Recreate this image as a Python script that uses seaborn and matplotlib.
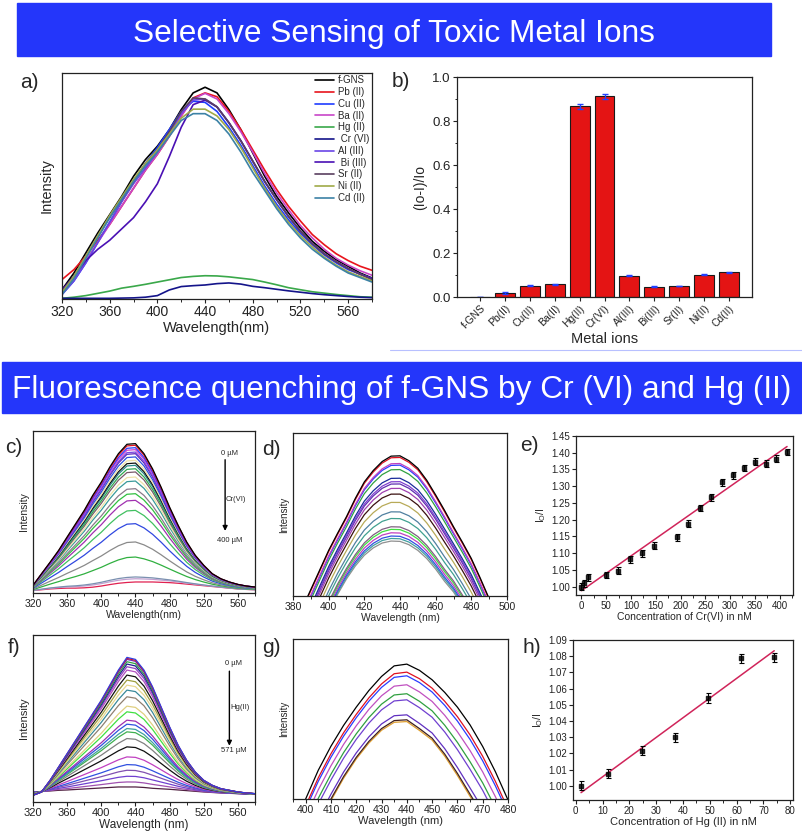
import numpy as np
import pandas as pd
import matplotlib
matplotlib.use('Agg')
import matplotlib.pyplot as plt
import seaborn as sns
from matplotlib.ticker import MultipleLocator, NullLocator, FormatStrFormatter

# ---------------- data ----------------
# a) emission spectra of f-GNS with 11 metal ions (320-580 nm, 10 nm step)
a_wl = list(range(320, 581, 10))
a_labels = ['f-GNS', 'Pb (II)', 'Cu (II)', 'Ba (II)', 'Hg (II)', ' Cr (VI)',
            'Al (III)', ' Bi (III)', 'Sr (II)', 'Ni (II)', 'Cd (II)']
a_fgns = [4.1, 11.5, 20.4, 29.2, 37.3, 45.4, 54.3, 61.7, 67.6, 74.9, 83.8, 91.2, 93.7, 91.2,
          83.8, 74.9, 64.6, 54.3, 45.4, 38.1, 31.4, 25.5, 21.1, 17.4, 14.5, 11.5, 9.3]
a_pb = [8.6, 13.0, 19.0, 26.0, 33.0, 41.0, 49.0, 57.0, 64.0, 72.0, 81.0, 89.0, 91.2, 89.5,
        83.0, 75.0, 66.0, 57.0, 48.5, 41.0, 34.5, 28.5, 24.0, 20.0, 17.0, 14.5, 12.7]
a_cu = [2.0, 8.0, 16.0, 25.0, 34.0, 43.0, 52.0, 60.0, 67.0, 75.0, 83.0, 87.5, 87.0, 83.0,
        76.0, 68.0, 59.0, 50.0, 42.0, 35.0, 29.0, 24.0, 19.5, 16.0, 13.0, 11.0, 9.0]
a_ba = [3.0, 9.0, 17.0, 25.0, 33.0, 41.0, 49.0, 57.0, 64.0, 72.0, 81.0, 88.5, 91.0, 88.5,
        82.0, 74.0, 65.0, 55.5, 47.0, 39.5, 32.5, 27.0, 22.0, 18.0, 15.0, 12.5, 10.5]
a_hg = [0.3, 0.8, 1.5, 2.5, 3.5, 4.8, 5.6, 6.5, 7.5, 8.5, 9.5, 10.0, 10.3, 10.2,
        9.8, 9.2, 8.6, 7.5, 6.3, 5.0, 4.1, 3.2, 2.6, 2.0, 1.5, 1.0, 0.8]
a_cr = [0.3, 0.3, 0.3, 0.3, 0.3, 0.4, 0.5, 0.8, 1.5, 4.0, 5.5, 5.9, 6.2, 6.8,
        7.1, 6.6, 5.6, 5.0, 4.3, 3.6, 3.0, 2.4, 1.9, 1.5, 1.1, 0.8, 0.6]
a_al = [2.0, 8.0, 16.0, 25.0, 34.0, 43.0, 51.0, 58.0, 65.0, 73.0, 82.0, 88.0, 88.5, 85.0,
        78.0, 70.0, 61.0, 52.0, 44.0, 36.5, 30.0, 24.5, 20.0, 16.5, 13.5, 11.0, 9.0]
a_bi = [4.0, 10.0, 17.0, 22.0, 26.0, 31.0, 36.0, 43.0, 51.0, 63.0, 76.0, 86.0, 88.0, 85.0,
        78.0, 70.0, 61.0, 52.0, 44.0, 36.5, 30.0, 24.5, 20.0, 16.5, 13.5, 11.0, 9.0]
a_sr = [3.0, 10.0, 19.0, 28.0, 36.0, 44.0, 52.0, 60.0, 66.0, 74.0, 83.0, 89.0, 88.5, 85.0,
        78.0, 70.0, 61.0, 52.0, 44.0, 36.5, 30.0, 24.5, 20.0, 16.5, 13.5, 11.0, 8.5]
a_ni = [3.0, 10.0, 19.0, 28.0, 37.0, 45.0, 53.0, 60.0, 66.0, 73.0, 80.0, 84.0, 84.0, 81.0,
        75.0, 67.0, 58.0, 49.0, 41.0, 34.0, 28.0, 23.0, 18.5, 15.0, 12.0, 10.0, 8.0]
a_cd = [2.0, 9.0, 18.0, 27.0, 36.0, 44.0, 52.0, 59.0, 65.0, 72.0, 79.0, 82.0, 82.0, 79.0,
        73.0, 65.0, 56.0, 48.0, 40.0, 33.0, 27.0, 22.0, 18.0, 14.5, 11.5, 9.5, 7.5]
a_colors = ['#000000', '#e8141c', '#1f3cff', '#c846c8', '#3aa84a', '#14148a',
            '#6a46e6', '#4a10b4', '#5a4060', '#a0aa48', '#3c82a6']

# b) quenching efficiency
b_ions = ['f-GNS', 'Pb(II)', 'Cu(II)', 'Ba(II)', 'Hg(II)', 'Cr(VI)',
          'Al(III)', 'Bi(III)', 'Sr(II)', 'Ni(II)', 'Cd(II)']
b_vals = [0.0, 0.018, 0.052, 0.058, 0.866, 0.912, 0.097, 0.047, 0.050, 0.101, 0.112]
b_err = [0.0, 0.003, 0.003, 0.003, 0.012, 0.012, 0.003, 0.002, 0.002, 0.003, 0.003]

# c) Cr(VI) titration: first (0 uM) and last (400 uM) spectra + peak height of each curve
c_wl = list(range(320, 581, 10))
c_top = [4.7, 11.9, 19.0, 26.3, 34.6, 42.8, 51.0, 60.3, 68.5, 77.8, 86.0, 91.8, 92.2, 86.0,
         76.7, 65.4, 53.0, 41.8, 31.5, 23.3, 17.1, 11.9, 8.8, 6.8, 5.3, 4.3, 3.7]
c_bot = [1.5, 2.0, 2.5, 2.8, 3.0, 3.0, 3.2, 3.6, 4.3, 5.2, 6.0, 6.5, 6.8, 6.8,
         6.8, 6.6, 6.4, 6.0, 5.5, 5.0, 4.5, 4.0, 3.5, 3.0, 2.5, 2.2, 2.0]
c_peaks = [92.2, 91.2, 89.7, 88.5, 87.0, 86.0, 84.0, 81.9, 80.2, 78.8, 76.7, 74.7,
           71.6, 69.1, 64.4, 61.3, 57.2, 51.0, 42.8, 31.5, 22.2, 9.9, 8.8, 6.8]
c_colors = ['#000000', '#e01020', '#2a3cff', '#d040d0', '#7a48e0', '#5a28b8', '#3050e0',
            '#efe2a8', '#101010', '#2a8a8a', '#30a850', '#7a5a6a', '#efe2a8', '#3a9a9a',
            '#8a7a8a', '#30c040', '#a030b0', '#40c060', '#3048e0', '#8a8a8a', '#30b040',
            '#7a90b0', '#c0a0d0', '#e02050']

# d) zoom on the Cr(VI) peaks (385-495 nm, 5 nm step)
d_wl = list(range(385, 496, 5))
d_top = [-8.0, 4.0, 16.0, 28.0, 38.5, 48.7, 60.0, 70.0, 77.0, 82.5, 85.8, 86.0, 83.0, 78.4,
         71.0, 62.0, 52.5, 42.5, 33.0, 23.0, 11.0, -1.6, -14.0]
d_bot = [-48.0, -35.0, -22.0, -10.0, 1.0, 10.5, 18.5, 25.0, 29.5, 32.5, 33.7, 33.5, 31.5,
         28.0, 23.0, 16.5, 9.0, 2.5, -6.0, -15.0, -25.0, -36.0, -47.0]
d_peaks = [86.0, 85.0, 81.3, 80.3, 77.6, 72.3, 70.2, 68.8, 66.1, 62.6, 57.5, 51.7, 47.6,
           42.5, 40.9, 38.8, 36.8, 35.3, 33.7]
d_colors = ['#000000', '#e01020', '#c040c0', '#2a3cff', '#30a040', '#1a2a9a', '#8040d0',
            '#6030b0', '#a040b0', '#3a1010', '#b8aa58', '#5080a0', '#40a090', '#806080',
            '#40e040', '#c040c0', '#3050e0', '#40a0a0', '#909090']

# e) Io/I vs Cr(VI)
e_x = [0, 5, 13, 50, 74, 99, 123, 147, 193, 216, 239, 261, 284, 306, 328, 350, 372, 393, 415]
e_y = [1.000, 1.010, 1.028, 1.035, 1.048, 1.082, 1.100, 1.122, 1.147, 1.188, 1.235, 1.267,
       1.312, 1.332, 1.354, 1.373, 1.367, 1.382, 1.402]
e_err = [0.010] * len(e_x)

# f) Hg(II) titration
f_wl = list(range(320, 581, 10))
f_top = [4.0, 6.0, 13.0, 21.0, 29.0, 37.0, 45.0, 53.0, 61.0, 70.0, 79.0, 86.6, 85.4, 79.0,
         69.0, 57.0, 45.0, 34.0, 25.0, 18.0, 13.0, 10.0, 8.0, 7.0, 6.0, 5.4, 5.0]
f_bot = [6.0, 6.3, 6.6, 7.0, 7.2, 7.5, 7.8, 8.1, 8.4, 8.7, 9.0, 9.0, 9.0, 8.7,
         8.2, 7.9, 7.6, 7.2, 6.8, 6.4, 6.0, 5.7, 5.4, 5.2, 5.0, 4.8, 4.6]
f_peaks = [86.6, 86.0, 85.4, 84.0, 82.6, 81.0, 79.0, 76.0, 73.0, 70.0, 67.0, 63.0, 57.4,
           54.0, 49.0, 46.6, 44.0, 42.0, 38.0, 33.0, 27.0, 22.4, 19.0, 15.4, 12.0, 9.0]
f_colors = ['#3040e0', '#e01020', '#6030c0', '#30a040', '#1a2090', '#9040c0', '#b050c0',
            '#101010', '#a0a040', '#e8d890', '#3a8a9a', '#908070', '#e0d080', '#40e040',
            '#a030b0', '#3050e0', '#40a0a0', '#40b050', '#808080', '#101010', '#c040c0',
            '#3050e0', '#8050b0', '#7040d0', '#a050b0', '#502040']

# g) zoom on the Hg(II) peaks (395-480 nm, 5 nm step)
g_wl = list(range(395, 481, 5))
g_top = [-19.0, 0.0, 18.0, 33.0, 46.0, 57.4, 67.8, 76.6, 83.2, 84.3, 80.4, 74.5, 66.6, 57.4,
         46.3, 32.8, 17.1, -0.6]
g_bot = [-45.0, -30.0, -15.0, 0.0, 14.0, 26.0, 36.0, 44.0, 49.0, 49.5, 44.0, 38.0, 28.0,
         16.0, 3.0, -10.0, -25.0, -40.0]
g_peaks = [84.3, 79.3, 77.0, 71.4, 65.8, 62.0, 52.6, 49.5, 48.4]
g_colors = ['#000000', '#e01020', '#2a3cff', '#c050c0', '#30a040', '#7040d0', '#6030c0',
            '#402020', '#e0a030']

# h) Io/I vs Hg(II)
h_x = [2, 12.2, 24.7, 37, 49.5, 61.7, 74]
h_y = [1.0000, 1.0075, 1.0215, 1.0298, 1.0542, 1.0787, 1.0792]
h_err = [0.0028] * len(h_x)

# ---------------- style ----------------
sns.set_theme(style='ticks')
plt.rcParams['font.family'] = ['Liberation Sans', 'DejaVu Sans']
plt.rcParams['mathtext.fontset'] = 'custom'
plt.rcParams['mathtext.rm'] = 'Liberation Sans'
plt.rcParams['mathtext.it'] = 'Liberation Sans:italic'

W, H = 803, 832
fig = plt.figure(figsize=(W / 100, H / 100), dpi=100)
fig.patch.set_facecolor('white')


def px_axes(l, t, r, b):
    return fig.add_axes([l / W, 1 - b / H, (r - l) / W, (b - t) / H])


def box(ax, fs):
    for s in ax.spines.values():
        s.set_visible(True)
        s.set_linewidth(0.9)
        s.set_color('#222222')
    ax.tick_params(which='major', direction='out', length=3, width=0.8, labelsize=fs,
                   top=False, right=False, pad=1.5, colors='#222222')
    ax.tick_params(which='minor', direction='out', length=1.8, width=0.7,
                   top=False, right=False)


def spectra(ax, wl, top, bot, peaks, colors, lw=0.9):
    top = np.array(top)
    bot = np.array(bot)
    pt, pb = top.max(), bot.max()
    # each titration curve sits between the first and last recorded spectrum
    for p, col in list(zip(peaks, colors))[::-1]:
        frac = (p - pb) / (pt - pb)
        sns.lineplot(x=wl, y=bot + frac * (top - bot), color=col, lw=lw, ax=ax)


def bar(x0, y0, x1, y1, text, base):
    fig.add_artist(plt.Rectangle((x0 / W, 1 - y1 / H), (x1 - x0) / W, (y1 - y0) / H,
                                 transform=fig.transFigure, color='#2436fa', zorder=0))
    fig.text((x0 + x1) / 2 / W, 1 - base / H, text, color='white', fontsize=22.8,
             ha='center', va='baseline')


def label(x, y, s):
    fig.text(x / W, 1 - y / H, s, fontsize=15, ha='left', va='top')


bar(17, 3, 771, 56, 'Selective Sensing of Toxic Metal Ions', 42)
bar(2, 362, 801, 413, 'Fluorescence quenching of f-GNS by Cr (VI) and Hg (II)', 398)
fig.add_artist(plt.Line2D([390 / W, 1], [1 - 350 / H] * 2, transform=fig.transFigure,
                          color='#b8c0ff', lw=0.8))

# ---------------- a ----------------
axa = px_axes(62, 73, 372, 299)
rows = []
for name, vals in zip(a_labels, [a_fgns, a_pb, a_cu, a_ba, a_hg, a_cr, a_al, a_bi, a_sr, a_ni, a_cd]):
    for w, v in zip(a_wl, vals):
        rows.append((name, w, v))
dfa = pd.DataFrame(rows, columns=['ion', 'wl', 'I'])
sns.lineplot(data=dfa, x='wl', y='I', hue='ion', hue_order=a_labels, palette=a_colors,
             lw=1.2, estimator=None, sort=False, ax=axa)
axa.set_xlim(320, 580)
axa.set_ylim(0, 100)
axa.xaxis.set_major_locator(MultipleLocator(40))
axa.xaxis.set_minor_locator(MultipleLocator(20))
axa.yaxis.set_major_locator(NullLocator())
box(axa, 10)
axa.set_xlabel('Wavelength(nm)', fontsize=10.5, labelpad=1)
axa.set_ylabel('Intensity', fontsize=10.5, labelpad=6)
axa.legend(frameon=False, loc='upper right', fontsize=7, handlelength=2.0,
           labelspacing=0.18, handletextpad=0.4, borderaxespad=0.15, borderpad=0.1)
label(20, 73, 'a)')

# ---------------- b ----------------
axb = px_axes(457, 77, 752, 297)
sns.barplot(x=b_ions, y=b_vals, color='#e41414', saturation=1, edgecolor='#1a1a1a',
            linewidth=0.8, width=0.8, ax=axb)
axb.errorbar(range(len(b_ions)), b_vals, yerr=b_err, fmt='none', ecolor='#2040ff',
             elinewidth=1.0, capsize=2, capthick=1.0)
axb.set_ylim(0, 1.0)
axb.yaxis.set_major_locator(MultipleLocator(0.2))
axb.yaxis.set_minor_locator(MultipleLocator(0.1))
axb.yaxis.set_major_formatter(FormatStrFormatter('%.1f'))
box(axb, 9.5)
axb.tick_params(axis='x', labelsize=7.5)
plt.setp(axb.get_xticklabels(), rotation=45, ha='right', rotation_mode='anchor')
axb.set_xlabel('Metal ions', fontsize=10.5, labelpad=1)
axb.set_ylabel('(Io-I)/Io', fontsize=10, labelpad=4)
label(392, 72, 'b)')

# ---------------- c ----------------
axc = px_axes(33, 431, 255, 593)
spectra(axc, c_wl, c_top, c_bot, c_peaks, c_colors)
axc.set_xlim(320, 580)
axc.set_ylim(0, 100)
axc.xaxis.set_major_locator(MultipleLocator(40))
axc.xaxis.set_minor_locator(MultipleLocator(20))
axc.yaxis.set_major_locator(NullLocator())
box(axc, 7.5)
axc.set_xlabel('Wavelength(nm)', fontsize=7.5, labelpad=0.5)
axc.set_ylabel('Intensity', fontsize=7.5, labelpad=3)
axc.annotate('', xy=(545, 36.6), xytext=(545, 84),
             arrowprops=dict(arrowstyle='-|>', color='black', lw=1.0, mutation_scale=7))
axc.text(550, 86.4, '0 µM', fontsize=5.5, ha='center', va='center')
axc.text(557, 57.6, 'Cr(VI)', fontsize=5.5, ha='center', va='center')
axc.text(550, 32.5, '400 µM', fontsize=5.5, ha='center', va='center')
label(5, 438, 'c)')

# ---------------- d ----------------
axd = px_axes(293, 433, 507, 596)
spectra(axd, d_wl, d_top, d_bot, d_peaks, d_colors)
axd.set_xlim(380, 500)
axd.set_ylim(0, 100)
axd.xaxis.set_major_locator(MultipleLocator(20))
axd.xaxis.set_minor_locator(MultipleLocator(10))
axd.yaxis.set_major_locator(NullLocator())
box(axd, 7.5)
axd.set_xlabel('Wavelength (nm)', fontsize=7.5, labelpad=0.5)
axd.set_ylabel('Intensity', fontsize=7, labelpad=3)
label(262, 440, 'd)')

# ---------------- e ----------------
axe = px_axes(576, 436, 793, 595)
sns.regplot(x=np.array(e_x), y=np.array(e_y), ci=None, marker='s', ax=axe,
            scatter_kws=dict(s=12, color='black', zorder=3),
            line_kws=dict(color='#d0245a', lw=1.1))
axe.errorbar(e_x, e_y, yerr=e_err, fmt='none', ecolor='black', elinewidth=0.8,
             capsize=1.8, capthick=0.8)
axe.set_xlim(-11, 427)
axe.set_ylim(0.975, 1.45)
axe.xaxis.set_major_locator(MultipleLocator(50))
axe.xaxis.set_minor_locator(MultipleLocator(25))
axe.yaxis.set_major_locator(MultipleLocator(0.05))
axe.yaxis.set_major_formatter(FormatStrFormatter('%.2f'))
box(axe, 7)
axe.set_xlabel('Concentration of Cr(VI) in nM', fontsize=7.5, labelpad=0.5)
axe.set_ylabel(r'I$_\mathrm{O}$/I', fontsize=7.5, labelpad=2)
label(520, 436, 'e)')

# ---------------- f ----------------
axf = px_axes(33, 635, 255, 802)
spectra(axf, f_wl, f_top, f_bot, f_peaks, f_colors)
axf.set_xlim(320, 580)
axf.set_ylim(0, 100)
axf.xaxis.set_major_locator(MultipleLocator(40))
axf.xaxis.set_minor_locator(MultipleLocator(20))
axf.yaxis.set_major_locator(NullLocator())
box(axf, 8)
axf.set_xlabel('Wavelength (nm)', fontsize=8.5, labelpad=0.5)
axf.set_ylabel('Intensity', fontsize=8, labelpad=3)
axf.annotate('', xy=(550, 32), xytext=(550, 80),
             arrowprops=dict(arrowstyle='-|>', color='black', lw=1.0, mutation_scale=7))
axf.text(555, 83, '0 µM', fontsize=5.5, ha='center', va='center')
axf.text(563, 56.4, 'Hg(II)', fontsize=5.5, ha='center', va='center')
axf.text(555, 30.6, '571 µM', fontsize=5.5, ha='center', va='center')
label(8, 638, 'f)')

# ---------------- g ----------------
axg = px_axes(293, 639, 508, 799)
spectra(axg, g_wl, g_top, g_bot, g_peaks, g_colors)
axg.set_xlim(395, 480)
axg.set_ylim(0, 100)
axg.xaxis.set_major_locator(MultipleLocator(10))
axg.xaxis.set_minor_locator(MultipleLocator(5))
axg.yaxis.set_major_locator(NullLocator())
box(axg, 7.5)
axg.set_xlabel('Wavelength (nm)', fontsize=8, labelpad=0.5)
axg.set_ylabel('Intensity', fontsize=7, labelpad=3)
label(262, 638, 'g)')

# ---------------- h ----------------
axh = px_axes(573, 640, 793, 800)
sns.regplot(x=np.array(h_x), y=np.array(h_y), ci=None, marker='s', ax=axh,
            scatter_kws=dict(s=12, color='black', zorder=3),
            line_kws=dict(color='#d0245a', lw=1.1))
axh.errorbar(h_x, h_y, yerr=h_err, fmt='none', ecolor='black', elinewidth=0.8,
             capsize=1.8, capthick=0.8)
axh.set_xlim(-1, 81)
axh.set_ylim(0.9912, 1.09)
axh.xaxis.set_major_locator(MultipleLocator(10))
axh.xaxis.set_minor_locator(MultipleLocator(5))
axh.yaxis.set_major_locator(MultipleLocator(0.01))
axh.yaxis.set_major_formatter(FormatStrFormatter('%.2f'))
box(axh, 7)
axh.set_xlabel('Concentration of Hg (II) in nM', fontsize=8, labelpad=0.5)
axh.set_ylabel(r'I$_\mathrm{O}$/I', fontsize=7.5, labelpad=2)
label(522, 638, 'h)')

fig.savefig('out.png', dpi=100)
